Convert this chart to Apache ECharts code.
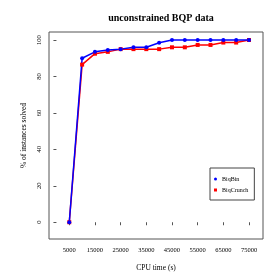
<!DOCTYPE html>
<html><head><meta charset="utf-8">
<script src="https://cdn.jsdelivr.net/npm/echarts@6/dist/echarts.min.js"></script>
<style>html,body{margin:0;padding:0;background:#fff}#c{width:280px;height:280px}</style>
</head><body><div id="c"></div>
<script>
const cpuTime = [5000,10000,15000,20000,25000,30000,35000,40000,45000,50000,55000,60000,65000,70000,75000];
const biqBin = [0,90,93.5,94.5,95,96,96,98.5,100,100,100,100,100,100,100];
const biqCrunch = [0,86.5,92.5,93.5,95,95,95,95,96,96,97.3,97.3,98.6,98.6,100];
const xTicks = [5000,15000,25000,35000,45000,55000,65000,75000];
const yTicks = [0,20,40,60,80,100];

const F = '"Liberation Serif", "DejaVu Serif", serif';
const chart = echarts.init(document.getElementById('c'), null, {renderer:'canvas'});
chart.setOption({
  animation:false,
  backgroundColor:'#fff',
  title:{text:'unconstrained BQP data', left:156, top:8, textAlign:'center',
    textStyle:{fontFamily:F, fontSize:10, fontWeight:'bold', color:'#000'}},
  grid:{left:49, right:17, top:32, bottom:41, show:true, borderColor:'#555', borderWidth:1},
  legend:{orient:'vertical', left:210, top:168, padding:[7,6,6,4], itemGap:3,
    borderColor:'#444', borderWidth:1, backgroundColor:'#fff',
    itemWidth:3, itemHeight:3,
    textStyle:{fontFamily:F, fontSize:6, color:'#000', lineHeight:8},
    data:[{name:'BiqBin', icon:'circle'},{name:'BiqCrunch', icon:'rect'}]},
  xAxis:{type:'value', min:-2900, max:80450,
    name:'CPU time (s)', nameLocation:'middle', nameGap:25,
    nameTextStyle:{fontFamily:F, fontSize:7.5, color:'#000'},
    axisLine:{show:false},
    axisTick:{show:true, inside:false, length:3, lineStyle:{color:'#555'}, customValues:xTicks},
    axisLabel:{fontFamily:F, fontSize:6.5, color:'#000', margin:8, customValues:xTicks, formatter:v=>String(v)},
    splitLine:{show:false}},
  yAxis:{type:'value', min:-9.2, max:104.4,
    name:'% of instances solved', nameLocation:'middle', nameGap:17, nameRotate:90,
    nameTextStyle:{fontFamily:F, fontSize:7.5, color:'#000'},
    axisLine:{show:false},
    axisTick:{show:true, inside:false, length:3, lineStyle:{color:'#555'}, customValues:yTicks},
    axisLabel:{fontFamily:F, fontSize:6.5, color:'#000', margin:6, rotate:90, customValues:yTicks, formatter:v=>String(v)},
    splitLine:{show:false}},
  series:[
    {name:'BiqCrunch', type:'line', data:cpuTime.map((x,i)=>[x,biqCrunch[i]]),
      symbol:'rect', symbolSize:4, showAllSymbol:true,
      itemStyle:{color:'#ff0000'}, lineStyle:{color:'#ff0000', width:1.5}},
    {name:'BiqBin', type:'line', data:cpuTime.map((x,i)=>[x,biqBin[i]]),
      symbol:'circle', symbolSize:4, showAllSymbol:true,
      itemStyle:{color:'#0000ff'}, lineStyle:{color:'#0000ff', width:1.5}}
  ]
});
</script></body></html>
